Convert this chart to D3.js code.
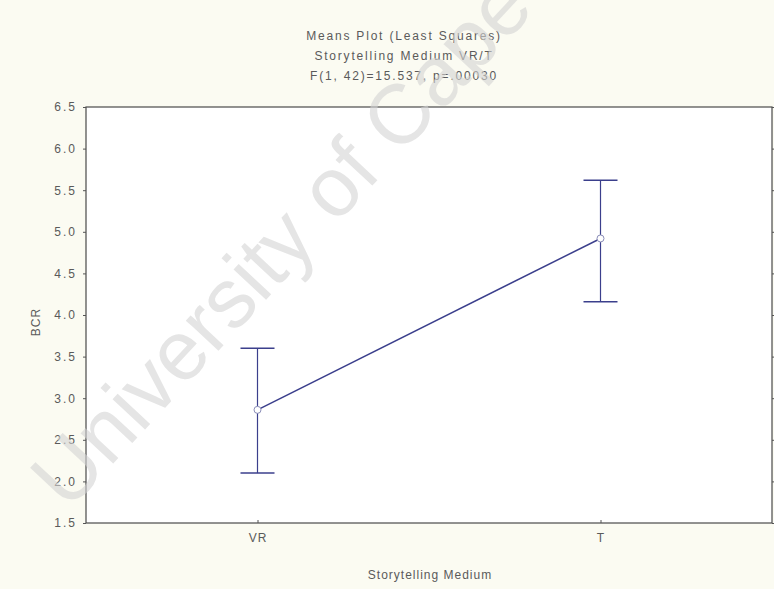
<!DOCTYPE html>
<html><head><meta charset="utf-8">
<script src="https://cdn.jsdelivr.net/npm/d3@7/dist/d3.min.js"></script>
<style>
html,body{margin:0;padding:0;background:#fbfbf2;}
svg{display:block;font-family:"Liberation Sans",Arial,sans-serif;}
</style></head>
<body>
<svg id="c" width="774" height="589"></svg>
<script>
const categories = ["VR", "T"];
const means = [2.86, 4.92];
const upper = [3.60, 5.62];
const lower = [2.10, 4.16];
const yTicks = [1.5, 2.0, 2.5, 3.0, 3.5, 4.0, 4.5, 5.0, 5.5, 6.0, 6.5];
const titleLines = ["Means Plot (Least Squares)", "Storytelling Medium VR/T", "F(1, 42)=15.537, p=.00030"];
const xTitle = "Storytelling Medium";
const yTitle = "BCR";
const watermark = "University of Cape Town";

const svg = d3.select("#c");
const L = 86, R = 772, T = 107, B = 523;
const x = d3.scalePoint().domain(categories).range([L, R]).padding(0.5);
const y = d3.scaleLinear().domain([1.5, 6.5]).range([B, T]);
const ink = "#3b3f8c";
const txt = "#5a5a5a";

svg.append("rect").attr("x", L).attr("y", T).attr("width", R - L).attr("height", B - T).attr("fill", "#ffffff");

// frame
svg.append("rect").attr("x", L).attr("y", T).attr("width", R - L).attr("height", B - T)
  .attr("fill", "none").attr("stroke", "#4a4a4a").attr("stroke-width", 1.2);

// left axis
const ya = svg.append("g").attr("transform", `translate(${L},0)`)
  .call(d3.axisLeft(y).tickValues(yTicks).tickFormat(d3.format(".1f")).tickSize(3).tickPadding(6));
ya.select(".domain").remove();
ya.selectAll("line").attr("stroke", "#555");
ya.selectAll("text").attr("fill", txt).attr("font-size", 12).attr("letter-spacing", 2);

// right axis ticks
const yr = svg.append("g").attr("transform", `translate(${R},0)`)
  .call(d3.axisLeft(y).tickValues(yTicks).tickSize(-3).tickFormat(""));
yr.select(".domain").remove();
yr.selectAll("line").attr("stroke", "#555");

// bottom axis
const xa = svg.append("g").attr("transform", `translate(0,${B})`)
  .call(d3.axisBottom(x).tickSize(-3).tickPadding(10));
xa.select(".domain").remove();
xa.selectAll("line").attr("stroke", "#555");
xa.selectAll("text").attr("fill", txt).attr("font-size", 12).attr("letter-spacing", 1);

// error bars
const g = svg.append("g");
categories.forEach((c, i) => {
  const cx = x(c);
  g.append("line").attr("x1", cx).attr("x2", cx).attr("y1", y(upper[i])).attr("y2", y(lower[i]))
    .attr("stroke", ink).attr("stroke-width", 1.2);
  [upper[i], lower[i]].forEach(v => {
    g.append("line").attr("x1", cx - 17).attr("x2", cx + 17).attr("y1", y(v)).attr("y2", y(v))
      .attr("stroke", ink).attr("stroke-width", 1.5);
  });
});
// mean line
g.append("path").datum(categories.map((c, i) => [x(c), y(means[i])]))
  .attr("d", d3.line()).attr("fill", "none").attr("stroke", ink).attr("stroke-width", 1.5);
g.selectAll("circle").data(categories).join("circle")
  .attr("cx", d => x(d)).attr("cy", (d, i) => y(means[i])).attr("r", 3.5)
  .attr("fill", "#fff").attr("stroke", "#8a8db8").attr("stroke-width", 1);

// titles
svg.selectAll("text.t").data(titleLines).join("text").attr("class", "t")
  .attr("x", 404).attr("y", (d, i) => 40 + i * 20).attr("text-anchor", "middle")
  .attr("font-size", 12).attr("letter-spacing", 1.8).attr("fill", txt).text(d => d);
svg.append("text").attr("x", 430).attr("y", 579).attr("text-anchor", "middle")
  .attr("font-size", 12).attr("letter-spacing", 1).attr("fill", txt).text(xTitle);
svg.append("text").attr("transform", `translate(40,${(T + B) / 2 + 7}) rotate(-90)`)
  .attr("text-anchor", "middle").attr("font-size", 12).attr("letter-spacing", 1).attr("fill", txt).text(yTitle);

// watermark
svg.append("text").attr("transform", "translate(68,512) rotate(-47)")
  .attr("font-size", 84).attr("fill", "#d4d4d4").attr("opacity", 0.6)
  .attr("font-family", "Liberation Sans, Arial, sans-serif").text(watermark);
</script>
</body></html>
